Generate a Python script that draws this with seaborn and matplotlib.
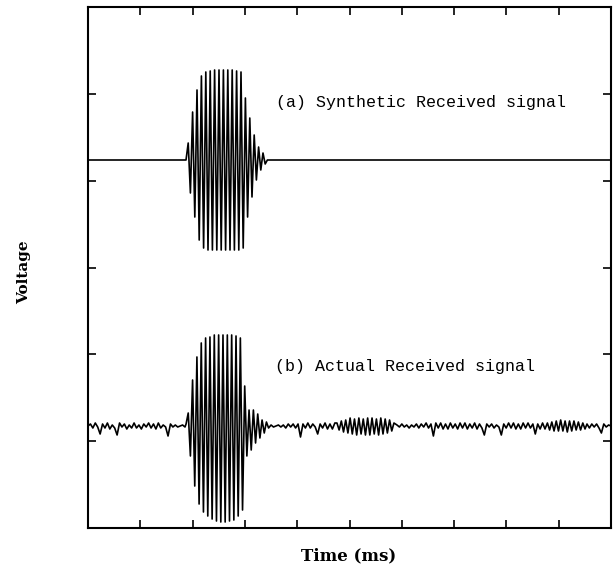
import numpy as np
import pandas as pd
import matplotlib
matplotlib.use("Agg")
import matplotlib.pyplot as plt
import seaborn as sns

# ---- Signal (a): synthetic received tone burst (extrema, mV) ----
synth_burst = [0, 17, -33, 48, -57, 70, -80, 84, -88, 88, -90, 89, -90, 90,
               -90, 90, -90, 90, -90, 90, -90, 90, -90, 89, -90, 88, -88, 62,
               -57, 42, -37, 25, -20, 13, -10, 7, -4, 0]
synth_burst_span = (1.874, 3.430)   # ms

# ---- Signal (b): actual received signal, piecewise (extrema, mV) ----
actual_pre = [0, 2, -2, 3, -1, -8, 2, -2, 3, -3, 1, -2, -9, 3, -1, 2, -3, 1,
              -2, 3, -2, 1, -3, 2, -1, 3, -2, 2, -3, 3, -2, 1, -1, -10, 2, -1,
              1, -1, 0, 1, -1]
actual_burst = [2, 13, -30, 46, -60, 69, -78, 83, -86, 88, -90, 89, -93, 91,
                -95, 91, -96, 91, -96, 91, -95, 91, -94, 90, -90, 88, -84, 40,
                -30, 16, -24, 16, -17, 12, -12, 6, -7, 4, -2]
actual_mid = [1, -1, 0, 1, -1, 1, -2, 2, -1, 2, -2, 2, -11, 2, -2, 3, -2, 2,
              -1, -8, 2, -2, 3, -3, 2, -3, 3]
actual_echo = [3, -4, 5, -6, 6, -7, 8, -8, 7, -9, 8, -8, 7, -9, 8, -9, 8, -8,
               7, -9, 8, -8, 7, -7, 6, -5, 3]
actual_late = [1, -1, 2, -1, 1, -2, 1, -1, 2, -2,
               2, -1, 3, -2, 2, -10, 3, -2, 3, -3,
               2, -3, 3, -2, 2, -3, 3, -2, 3, -3,
               2, -2, 3, -3, 2, -2, -9, 2, -1, 2,
               -2, 1, -1, -9, 2, -2, 3, -2, 3, -3,
               2, -3, 3, -2, 3, -2, 2, -8, 2, -3,
               3, -3]
actual_bump = [3, -4, 4, -5, 5, -5, 6, -5, 5, -6, 5, -5, 5, -4, 4, -4, 3, -3]
actual_end = [2, -2, 2, -1, 2, -2, -7, 2, -1, 1, 0]

# time span (ms) covered by each piece of signal (b)
actual_spans = [(0.0, 1.855), (1.875, 3.453), (3.50, 4.72), (4.76, 5.85),
                (5.908, 8.738), (8.784, 9.503), (9.541, 10.0)]

T_MAX = 10.0
OFFSET_A = 266.0            # vertical offset of trace (a), mV
Y_LIM = (-102.0, 419.0)


def piece_times(span, values):
    return np.linspace(span[0], span[1], len(values))


# trace (a): flat before and after the burst
t_a = np.concatenate([[0.0], piece_times(synth_burst_span, synth_burst), [T_MAX]])
v_a = np.concatenate([[0.0], synth_burst, [0.0]])
df_a = pd.DataFrame({"t": t_a, "v": v_a + OFFSET_A, "trace": "a"})

pieces = [actual_pre, actual_burst, actual_mid, actual_echo,
          actual_late, actual_bump, actual_end]
t_b = np.concatenate([piece_times(s, p) for s, p in zip(actual_spans, pieces)])
v_b = np.concatenate([np.asarray(p, float) for p in pieces])
df_b = pd.DataFrame({"t": t_b, "v": v_b, "trace": "b"})

sns.set_theme(style="ticks")
plt.rcParams["font.family"] = ["DejaVu Serif"]
plt.rcParams["text.color"] = "black"

fig = plt.figure(figsize=(6.15, 5.75), dpi=100)
ax = fig.add_axes([88 / 615, 1 - 528 / 575, 523 / 615, 521 / 575])

for df in (df_a, df_b):
    sns.lineplot(data=df, x="t", y="v", ax=ax, color="black", lw=1.2,
                 sort=False, estimator=None, legend=False)

ax.set_xlim(0, T_MAX)
ax.set_ylim(*Y_LIM)
ax.set_xticks(np.linspace(0, T_MAX, 11))
ax.set_yticks(np.linspace(Y_LIM[0], Y_LIM[1], 7))
ax.set_xticklabels([])
ax.set_yticklabels([])
ax.tick_params(direction="in", length=6, width=1.2, color="black",
               top=True, right=True, bottom=True, left=True)
for sp in ax.spines.values():
    sp.set_visible(True)
    sp.set_linewidth(1.5)
    sp.set_color("black")

ax.set_xlabel("")
ax.set_ylabel("")
fig.text(349 / 615, 1 - 556 / 575, "Time (ms)", ha="center", va="center",
         fontsize=12, fontweight="bold", color="black")
fig.text(24 / 615, 1 - 272 / 575, "Voltage", ha="center", va="center",
         rotation=90, fontsize=11, fontweight="bold", color="black")

ax.text(276 / 615, 1 - 102 / 575, "(a) Synthetic Received signal",
        transform=fig.transFigure, ha="left", va="center", fontsize=12,
        family=["Liberation Mono"], color="black")
ax.text(275 / 615, 1 - 367 / 575, "(b) Actual Received signal",
        transform=fig.transFigure, ha="left", va="center", fontsize=12,
        family=["Liberation Mono"], color="black")

fig.savefig("out.png", dpi=100, facecolor="white")
